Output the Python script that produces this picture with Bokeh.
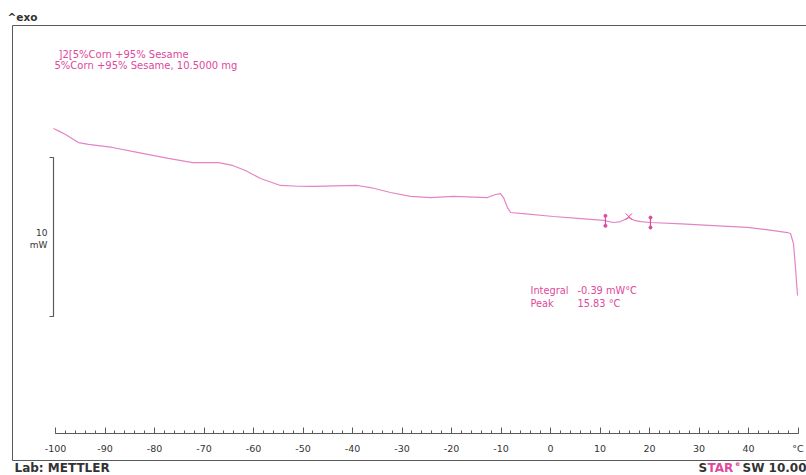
import numpy as np
from bokeh.plotting import figure
from bokeh.models import Range1d, LinearAxis, SingleIntervalTicker, Label
from bokeh.embed import file_html
from bokeh.resources import INLINE

# DSC heating run: temperature (°C) against heat flow (mW), exothermic up
temperature = [-100.40, -99.2, -97.98, -96.6, -95.35, -93.33, -90.9, -88.48, -83.23,
               -77.17, -72.32, -67.07, -64.24, -61.62, -58.59, -54.55, -51.0, -47.88,
               -43.5, -38.99, -36.36, -32.32, -28.28, -24.24, -19.60, -12.73, -11.11,
               -10.10, -9.49, -8.69, -8.08, -6.06, 0.61, 5.5, 10.71, 12.73, 14.14,
               15.83, 16.97, 18.18, 20.20, 26.5, 32.93, 39.80, 44.0, 47.88, 48.48,
               49.09, 49.49, 49.90]
heat_flow = [7.67, 7.49, 7.30, 7.03, 6.79, 6.67, 6.58, 6.48, 6.16,
             5.79, 5.53, 5.53, 5.35, 5.03, 4.53, 4.09, 4.04, 4.03,
             4.06, 4.09, 3.96, 3.65, 3.40, 3.33, 3.40, 3.33, 3.52,
             3.58, 3.33, 2.70, 2.39, 2.33, 2.14, 2.02, 1.89, 1.76, 1.82,
             2.08, 1.89, 1.82, 1.76, 1.67, 1.57, 1.45, 1.30, 1.13, 1.07,
             0.44, -1.07, -2.83]

# evaluation of the small event near 16 °C
limit_temps = [11.1, 20.2]
peak_temp = 15.83
integral_value = -0.39

# sample description
curve_title = "]2[5%Corn +95% Sesame"
sample_line = "5%Corn +95% Sesame, 10.5000 mg"

# 10 mW scale bar
scale_mw = 10
scale_bottom_mw = -4.15

tick_start, tick_end, tick_step = -100, 50, 10

# page geometry: canvas pixels <-> data
W, H = 806, 475
PX_PER_C = 4.95
X_ORIGIN_PX = 55.0          # where -100 °C sits
PX_PER_MW = 15.9
Y_ZERO_PX = 250.0           # where 0 mW sits


def sx(px):
    return tick_start + (px - X_ORIGIN_PX) / PX_PER_C


def sy(py):
    return (Y_ZERO_PX - py) / PX_PER_MW


PINK = "#e0489c"
CURVE = "#e584c4"
GREY = "#5a5a5a"
DARK = "#333333"
FONT = "DejaVu Sans"

p = figure(width=W, height=H, min_border=0, toolbar_location=None,
           output_backend="svg", x_axis_type=None, y_axis_type=None,
           x_range=Range1d(sx(0), sx(W)), y_range=Range1d(sy(H), sy(0)))
p.outline_line_color = None
p.xgrid.visible = False
p.ygrid.visible = False
p.background_fill_color = "white"
p.border_fill_color = "white"

# temperature axis drawn inside the frame
axis = LinearAxis(fixed_location=sy(433), bounds=(tick_start, tick_end),
                  ticker=SingleIntervalTicker(interval=tick_step, num_minor_ticks=5))
overrides = {t: str(t) for t in range(tick_start, tick_end, tick_step)}
overrides[tick_end] = "°C"
axis.major_label_overrides = overrides
axis.axis_line_color = GREY
axis.major_tick_line_color = GREY
axis.minor_tick_line_color = GREY
axis.major_tick_in = 6
axis.major_tick_out = 0
axis.minor_tick_in = 3
axis.minor_tick_out = 0
axis.major_label_standoff = 9
axis.major_label_text_font = FONT
axis.major_label_text_font_size = "9.5px"
axis.major_label_text_color = DARK
p.add_layout(axis, "below")

# page frame
p.line([sx(12), sx(12)], [sy(25), sy(460)], line_color=GREY, line_width=1)
p.line([sx(12), sx(W)], [sy(25), sy(25)], line_color=GREY, line_width=1)
p.line([sx(12), sx(W)], [sy(460), sy(460)], line_color=GREY, line_width=1)

# scale bar
bar_x = sx(53)
tick_x = sx(49)
p.line([tick_x, bar_x, bar_x, tick_x],
       [scale_bottom_mw + scale_mw, scale_bottom_mw + scale_mw, scale_bottom_mw, scale_bottom_mw],
       line_color=GREY, line_width=1.2)
mid = scale_bottom_mw + scale_mw / 2
for txt, dy in ((f"{scale_mw}", 0.3), ("mW", -0.5)):
    p.add_layout(Label(x=sx(47), y=mid + dy, text=txt, text_align="right",
                       text_baseline="middle", text_font=FONT,
                       text_font_size="9px", text_color=DARK))

# the measured curve
p.line(temperature, heat_flow, line_color=CURVE, line_width=1.2)

# integration limits and peak marker
half = 5 / PX_PER_MW
for t in limit_temps:
    h = float(np.interp(t, temperature, heat_flow))
    p.line([t, t], [h - half, h + half], line_color=PINK, line_width=1.2)
    p.scatter([t, t], [h - half, h + half], size=3, color=PINK)
peak_h = float(np.interp(peak_temp, temperature, heat_flow))
p.scatter([peak_temp], [peak_h + 0.05], marker="x", size=9, line_color=PINK, line_width=1)

# evaluation results
res_x1, res_x2 = sx(530), sx(577)
rows = [("Integral", f"{integral_value:.2f} mW°C", 290),
        ("Peak", f"{peak_temp:.2f} °C", 302.5)]
for name, val, py in rows:
    p.add_layout(Label(x=res_x1, y=sy(py), text=name, text_baseline="middle",
                       text_font=FONT, text_font_size="9.8px", text_color=PINK))
    p.add_layout(Label(x=res_x2, y=sy(py), text=val, text_baseline="middle",
                       text_font=FONT, text_font_size="9.8px", text_color=PINK))

# curve description
p.add_layout(Label(x=sx(58), y=sy(53.5), text=curve_title, text_baseline="middle",
                   text_font=FONT, text_font_size="10px", text_color=PINK))
p.add_layout(Label(x=sx(54), y=sy(65), text=sample_line, text_baseline="middle",
                   text_font=FONT, text_font_size="10px", text_color=PINK))

# page header and footer
p.add_layout(Label(x=sx(7), y=sy(16), text="^exo", text_baseline="middle",
                   text_font=FONT, text_font_size="10.5px", text_font_style="bold",
                   text_color=DARK))
p.add_layout(Label(x=sx(14), y=sy(467), text="Lab: METTLER", text_baseline="middle",
                   text_font=FONT, text_font_size="12px", text_font_style="bold",
                   text_color=DARK))
p.add_layout(Label(x=sx(698), y=sy(467), text="S", text_baseline="middle",
                   text_font=FONT, text_font_size="12px", text_font_style="bold",
                   text_color=DARK))
p.add_layout(Label(x=sx(707), y=sy(467), text="TAR", text_baseline="middle",
                   text_font=FONT, text_font_size="12px", text_font_style="bold",
                   text_color=PINK))
p.add_layout(Label(x=sx(735), y=sy(463), text="e", text_baseline="middle",
                   text_font=FONT, text_font_size="6.5px", text_font_style="bold",
                   text_color=PINK))
p.add_layout(Label(x=sx(806), y=sy(467), text="SW 10.00", text_align="right",
                   text_baseline="middle", text_font=FONT, text_font_size="12px",
                   text_font_style="bold", text_color=DARK))

open("out.html", "w").write(file_html(p, INLINE))
